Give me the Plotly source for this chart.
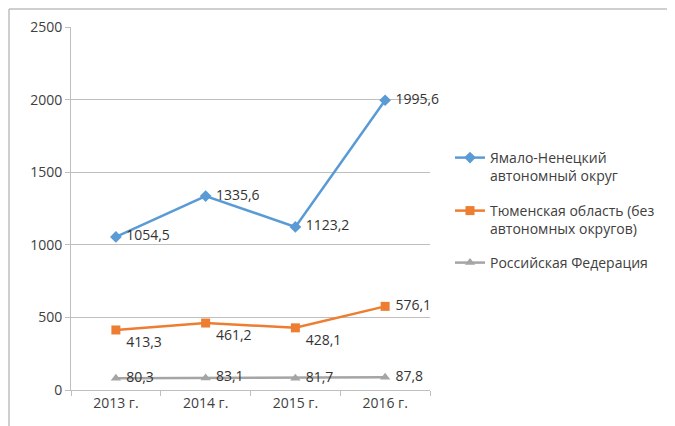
import plotly.graph_objects as go

years = ["2013 г.", "2014 г.", "2015 г.", "2016 г."]
yamal = [1054.5, 1335.6, 1123.2, 1995.6]
tyumen = [413.3, 461.2, 428.1, 576.1]
russia = [80.3, 83.1, 81.7, 87.8]

names = ["Ямало-Ненецкий<br>автономный округ",
         "Тюменская область (без<br>автономных округов)",
         "Российская Федерация"]

def fmt(v):
    return " " + f"{v:.1f}".replace(".", ",")

FONT = "Open Sans"
TXT = "#404040"
LBL = dict(family=FONT, size=14, color="#333333")

fig = go.Figure()
fig.add_trace(go.Scatter(
    x=years, y=yamal, name=names[0], legend="legend", mode="lines+markers+text",
    line=dict(color="#5B9BD5", width=2.5),
    marker=dict(symbol="diamond", size=9, color="#5B9BD5"),
    text=[fmt(v) for v in yamal], textposition="middle right",
    textfont=LBL, cliponaxis=False,
))
fig.add_trace(go.Scatter(
    x=years, y=tyumen, name=names[1], legend="legend2", mode="lines+markers+text",
    line=dict(color="#ED7D31", width=2.5),
    marker=dict(symbol="square", size=9, color="#ED7D31"),
    text=[fmt(v) for v in tyumen],
    textposition=["bottom right", "bottom right", "bottom right", "middle right"],
    textfont=LBL, cliponaxis=False,
))
fig.add_trace(go.Scatter(
    x=years, y=russia, name=names[2], legend="legend3", mode="lines+markers+text",
    line=dict(color="#A5A5A5", width=2.5),
    marker=dict(symbol="triangle-up", size=9, color="#A5A5A5"),
    text=[fmt(v) for v in russia], textposition="middle right",
    textfont=LBL, cliponaxis=False,
))

# page body has an 8px margin
OFF = 8
W, H = 675 - OFF, 426 - OFF
L, T = 71 - OFF, 27 - OFF
pw, ph = 359, 363
R, B = W - L - pw, H - T - ph

def px_x(sx):
    return (sx - OFF - L) / pw

def px_y(sy):
    return (T + ph - (sy - OFF)) / ph

def leg(top):
    return dict(x=px_x(450), y=px_y(top), xanchor="left", yanchor="top",
                valign="top", font=dict(size=14, color=TXT),
                bgcolor="rgba(0,0,0,0)")

fig.update_layout(
    width=W, height=H,
    margin=dict(l=L, r=R, t=T, b=B, autoexpand=False),
    paper_bgcolor="white", plot_bgcolor="white",
    font=dict(family=FONT, size=14, color=TXT),
    showlegend=True,
    legend=leg(142), legend2=leg(195), legend3=leg(247),
    xaxis=dict(range=[-0.5, 3.5], showgrid=False, showline=True, linecolor="#BFBFBF",
               linewidth=1, ticks="outside", tickson="boundaries", ticklen=5,
               tickcolor="#BFBFBF", zeroline=False, fixedrange=True),
    yaxis=dict(range=[0, 2500], dtick=500, showgrid=True, gridcolor="#BFBFBF",
               gridwidth=1, showline=True, linecolor="#BFBFBF", ticks="outside",
               ticklen=5, tickcolor="#BFBFBF", zeroline=False, fixedrange=True),
    shapes=[
        dict(type="line", xref="paper", yref="paper",
             x0=px_x(9), x1=px_x(680), y0=px_y(9), y1=px_y(9),
             line=dict(color="#BFBFBF", width=1.5)),
        dict(type="line", xref="paper", yref="paper",
             x0=px_x(9), x1=px_x(9), y0=px_y(9), y1=px_y(430),
             line=dict(color="#BFBFBF", width=1.5)),
    ],
)
fig.write_html("out.html")
